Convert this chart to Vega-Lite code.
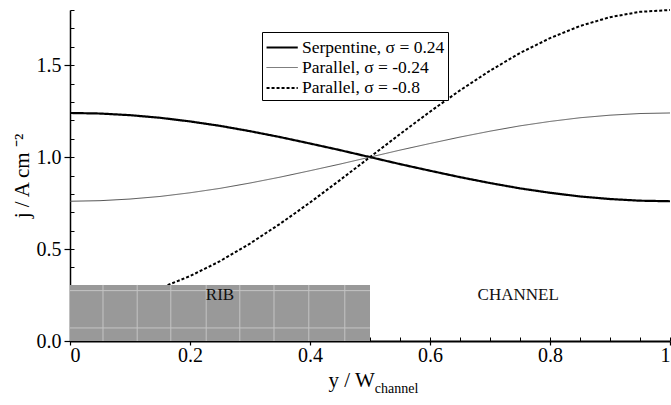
{
  "$schema": "https://vega.github.io/schema/vega-lite/v6.json",
  "width": 600,
  "height": 331,
  "autosize": "none",
  "padding": {"left": 70, "top": 10, "right": 1, "bottom": 64},
  "background": "white",
  "config": {
    "view": {"stroke": null},
    "font": "Liberation Serif",
    "axis": {"grid": false, "domainColor": "#000", "tickColor": "#000", "labelColor": "#000", "titleColor": "#000", "labelFont": "Liberation Serif", "titleFont": "Liberation Serif", "titleFontWeight": "normal", "labelFontSize": 20, "titleFontSize": 21}
  },
  "datasets": {
    "curves": [
      {"x": 0, "j": 1.24, "series": "Serpentine, σ = 0.24"},
      {"x": 0.05, "j": 1.237, "series": "Serpentine, σ = 0.24"},
      {"x": 0.1, "j": 1.228, "series": "Serpentine, σ = 0.24"},
      {"x": 0.15, "j": 1.214, "series": "Serpentine, σ = 0.24"},
      {"x": 0.2, "j": 1.194, "series": "Serpentine, σ = 0.24"},
      {"x": 0.25, "j": 1.17, "series": "Serpentine, σ = 0.24"},
      {"x": 0.3, "j": 1.141, "series": "Serpentine, σ = 0.24"},
      {"x": 0.35, "j": 1.109, "series": "Serpentine, σ = 0.24"},
      {"x": 0.4, "j": 1.074, "series": "Serpentine, σ = 0.24"},
      {"x": 0.45, "j": 1.038, "series": "Serpentine, σ = 0.24"},
      {"x": 0.5, "j": 1.0, "series": "Serpentine, σ = 0.24"},
      {"x": 0.55, "j": 0.962, "series": "Serpentine, σ = 0.24"},
      {"x": 0.6, "j": 0.926, "series": "Serpentine, σ = 0.24"},
      {"x": 0.65, "j": 0.891, "series": "Serpentine, σ = 0.24"},
      {"x": 0.7, "j": 0.859, "series": "Serpentine, σ = 0.24"},
      {"x": 0.75, "j": 0.83, "series": "Serpentine, σ = 0.24"},
      {"x": 0.8, "j": 0.806, "series": "Serpentine, σ = 0.24"},
      {"x": 0.85, "j": 0.786, "series": "Serpentine, σ = 0.24"},
      {"x": 0.9, "j": 0.772, "series": "Serpentine, σ = 0.24"},
      {"x": 0.95, "j": 0.763, "series": "Serpentine, σ = 0.24"},
      {"x": 1, "j": 0.76, "series": "Serpentine, σ = 0.24"},
      {"x": 0, "j": 0.76, "series": "Parallel, σ = -0.24"},
      {"x": 0.05, "j": 0.763, "series": "Parallel, σ = -0.24"},
      {"x": 0.1, "j": 0.772, "series": "Parallel, σ = -0.24"},
      {"x": 0.15, "j": 0.786, "series": "Parallel, σ = -0.24"},
      {"x": 0.2, "j": 0.806, "series": "Parallel, σ = -0.24"},
      {"x": 0.25, "j": 0.83, "series": "Parallel, σ = -0.24"},
      {"x": 0.3, "j": 0.859, "series": "Parallel, σ = -0.24"},
      {"x": 0.35, "j": 0.891, "series": "Parallel, σ = -0.24"},
      {"x": 0.4, "j": 0.926, "series": "Parallel, σ = -0.24"},
      {"x": 0.45, "j": 0.962, "series": "Parallel, σ = -0.24"},
      {"x": 0.5, "j": 1.0, "series": "Parallel, σ = -0.24"},
      {"x": 0.55, "j": 1.038, "series": "Parallel, σ = -0.24"},
      {"x": 0.6, "j": 1.074, "series": "Parallel, σ = -0.24"},
      {"x": 0.65, "j": 1.109, "series": "Parallel, σ = -0.24"},
      {"x": 0.7, "j": 1.141, "series": "Parallel, σ = -0.24"},
      {"x": 0.75, "j": 1.17, "series": "Parallel, σ = -0.24"},
      {"x": 0.8, "j": 1.194, "series": "Parallel, σ = -0.24"},
      {"x": 0.85, "j": 1.214, "series": "Parallel, σ = -0.24"},
      {"x": 0.9, "j": 1.228, "series": "Parallel, σ = -0.24"},
      {"x": 0.95, "j": 1.237, "series": "Parallel, σ = -0.24"},
      {"x": 1, "j": 1.24, "series": "Parallel, σ = -0.24"},
      {"x": 0, "j": 0.2, "series": "Parallel, σ = -0.8"},
      {"x": 0.05, "j": 0.21, "series": "Parallel, σ = -0.8"},
      {"x": 0.1, "j": 0.239, "series": "Parallel, σ = -0.8"},
      {"x": 0.15, "j": 0.287, "series": "Parallel, σ = -0.8"},
      {"x": 0.2, "j": 0.353, "series": "Parallel, σ = -0.8"},
      {"x": 0.25, "j": 0.434, "series": "Parallel, σ = -0.8"},
      {"x": 0.3, "j": 0.53, "series": "Parallel, σ = -0.8"},
      {"x": 0.35, "j": 0.637, "series": "Parallel, σ = -0.8"},
      {"x": 0.4, "j": 0.753, "series": "Parallel, σ = -0.8"},
      {"x": 0.45, "j": 0.875, "series": "Parallel, σ = -0.8"},
      {"x": 0.5, "j": 1.0, "series": "Parallel, σ = -0.8"},
      {"x": 0.55, "j": 1.125, "series": "Parallel, σ = -0.8"},
      {"x": 0.6, "j": 1.247, "series": "Parallel, σ = -0.8"},
      {"x": 0.65, "j": 1.363, "series": "Parallel, σ = -0.8"},
      {"x": 0.7, "j": 1.47, "series": "Parallel, σ = -0.8"},
      {"x": 0.75, "j": 1.566, "series": "Parallel, σ = -0.8"},
      {"x": 0.8, "j": 1.647, "series": "Parallel, σ = -0.8"},
      {"x": 0.85, "j": 1.713, "series": "Parallel, σ = -0.8"},
      {"x": 0.9, "j": 1.761, "series": "Parallel, σ = -0.8"},
      {"x": 0.95, "j": 1.79, "series": "Parallel, σ = -0.8"},
      {"x": 1, "j": 1.8, "series": "Parallel, σ = -0.8"}
    ],
    "rib": [{"x": 0, "x2": 0.5, "y": 0, "y2": 0.305}],
    "ribV": [{"x": 0.055}, {"x": 0.112}, {"x": 0.168}, {"x": 0.227}, {"x": 0.283}, {"x": 0.34}, {"x": 0.398}, {"x": 0.458}],
    "ribH": [{"y": 0.274}, {"y": 0.071}],
    "labels": [
      {"x": 0.25, "y": 0.25, "text": "RIB"},
      {"x": 0.747, "y": 0.25, "text": "CHANNEL"}
    ],
    "xtitle": [{"x": 0.508, "y": -0.25, "text": "y / W"}],
    "xsub": [{"x": 0.508, "y": -0.283, "text": "channel"}]
  },
  "resolve": {"axis": {"x": "independent", "y": "independent"}},
  "layer": [
    {
      "data": {"name": "rib"},
      "mark": {"type": "rect", "fill": "#999999"},
      "encoding": {
        "x": {"field": "x", "type": "quantitative", "scale": {"domain": [0, 1], "nice": false}, "axis": {"orient": "bottom", "values": [0, 0.05, 0.1, 0.15, 0.2, 0.25, 0.3, 0.35, 0.4, 0.45, 0.5, 0.55, 0.6, 0.65, 0.7, 0.75, 0.8, 0.85, 0.9, 0.95, 1], "labels": false, "domain": false, "tickSize": -4, "tickWidth": 1, "title": null}},
        "x2": {"field": "x2"},
        "y": {"field": "y", "type": "quantitative", "scale": {"domain": [0, 1.8], "nice": false}, "axis": {"orient": "left", "values": [0, 0.1, 0.2, 0.3, 0.4, 0.5, 0.6, 0.7, 0.8, 0.9, 1, 1.1, 1.2, 1.3, 1.4, 1.5, 1.6, 1.7, 1.8], "labels": false, "domain": false, "tickSize": -4, "tickWidth": 1, "title": null}},
        "y2": {"field": "y2"}
      }
    },
    {
      "data": {"name": "curves"},
      "mark": {"type": "line", "strokeCap": "butt"},
      "encoding": {
        "x": {"field": "x", "type": "quantitative", "axis": {"orient": "bottom", "values": [0, 0.2, 0.4, 0.6, 0.8, 1], "format": "~g", "labelFontSize": 20, "tickSize": 4, "tickWidth": 1.2, "labelPadding": 0, "domainWidth": 2, "title": null}},
        "y": {"field": "j", "type": "quantitative", "axis": {"orient": "left", "values": [0, 0.5, 1, 1.5], "format": ".1f", "labelFontSize": 20, "tickSize": 6, "tickWidth": 1.2, "labelPadding": 3, "domainWidth": 1.5, "title": "j / A cm ⁻²", "titleFontSize": 21, "titlePadding": 4}},
        "color": {"field": "series", "type": "nominal", "scale": {"domain": ["Serpentine, σ = 0.24", "Parallel, σ = -0.24", "Parallel, σ = -0.8"], "range": ["#000000", "#555555", "#000000"]}, "legend": {"title": null, "orient": "none", "legendX": 192, "legendY": 22, "symbolType": "M-1,0H1.85", "symbolSize": 480, "labelFont": "Liberation Serif", "labelFontSize": 17.5, "labelColor": "#000", "strokeColor": "#000", "fillColor": "white", "padding": 3, "rowPadding": 0, "labelOffset": 12}},
        "strokeDash": {"field": "series", "type": "nominal", "scale": {"domain": ["Serpentine, σ = 0.24", "Parallel, σ = -0.24", "Parallel, σ = -0.8"], "range": [[1, 0], [1, 0], [3, 2]]}},
        "strokeWidth": {"field": "series", "type": "nominal", "scale": {"type": "ordinal", "domain": ["Serpentine, σ = 0.24", "Parallel, σ = -0.24", "Parallel, σ = -0.8"], "range": [2.2, 1, 2]}}
      }
    },
    {
      "data": {"name": "rib"},
      "mark": {"type": "rect", "fill": "#999999"},
      "encoding": {
        "x": {"field": "x", "type": "quantitative", "axis": null},
        "x2": {"field": "x2"},
        "y": {"field": "y", "type": "quantitative", "axis": null},
        "y2": {"field": "y2"}
      }
    },
    {
      "data": {"name": "ribV"},
      "mark": {"type": "rule", "stroke": "#c4c4c4", "strokeWidth": 1},
      "encoding": {
        "x": {"field": "x", "type": "quantitative", "axis": null},
        "y": {"datum": 0, "axis": null},
        "y2": {"datum": 0.305}
      }
    },
    {
      "data": {"name": "ribH"},
      "mark": {"type": "rule", "stroke": "#c4c4c4", "strokeWidth": 1},
      "encoding": {
        "y": {"field": "y", "type": "quantitative", "axis": null},
        "x": {"datum": 0, "axis": null},
        "x2": {"datum": 0.5}
      }
    },
    {
      "data": {"name": "labels"},
      "mark": {"type": "text", "font": "Liberation Serif", "fontSize": 17, "color": "#111"},
      "encoding": {
        "x": {"field": "x", "type": "quantitative", "axis": null},
        "y": {"field": "y", "type": "quantitative", "axis": null},
        "text": {"field": "text"}
      }
    },
    {
      "data": {"name": "xtitle"},
      "mark": {"type": "text", "font": "Liberation Serif", "fontSize": 21, "align": "right", "baseline": "alphabetic", "color": "#000"},
      "encoding": {
        "x": {"field": "x", "type": "quantitative", "axis": null},
        "y": {"field": "y", "type": "quantitative", "axis": null},
        "text": {"field": "text"}
      }
    },
    {
      "data": {"name": "xsub"},
      "mark": {"type": "text", "font": "Liberation Serif", "fontSize": 14, "align": "left", "baseline": "alphabetic", "color": "#000"},
      "encoding": {
        "x": {"field": "x", "type": "quantitative", "axis": null},
        "y": {"field": "y", "type": "quantitative", "axis": null},
        "text": {"field": "text"}
      }
    }
  ]
}
